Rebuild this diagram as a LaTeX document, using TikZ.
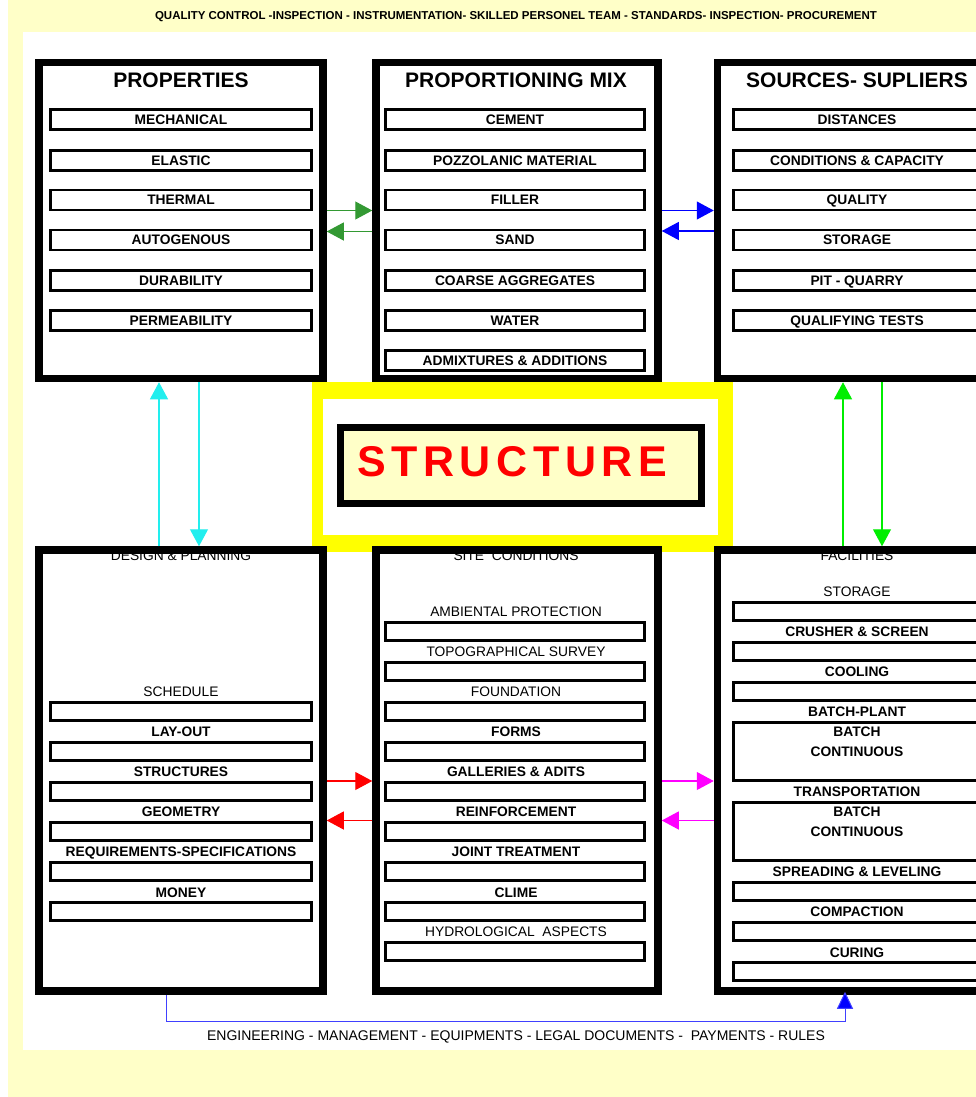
\documentclass[tikz,border=0pt]{standalone}
\usepackage{fontspec}
\setmainfont{Liberation Sans}
\usetikzlibrary{arrows.meta}
\definecolor{bgy}{HTML}{FFFFC8}
\definecolor{gA}{HTML}{339933}
\definecolor{gB}{HTML}{00EE00}
\definecolor{bA}{HTML}{0000FF}
\definecolor{cA}{HTML}{22EEEE}
\definecolor{rA}{HTML}{FF0000}
\definecolor{mA}{HTML}{FF00FF}
\definecolor{yA}{HTML}{FFFF00}
\tikzset{
  bigbox/.style={draw=black, line width=7.5pt, inner sep=0pt, minimum width=284pt},
  itembox/.style={draw=black, line width=2.8pt, inner sep=0pt, minimum height=20pt,
    text height=9.9pt, text depth=0pt, font=\fontsize{13.8}{16}\selectfont\bfseries},
  emptybox/.style={draw=black, line width=2.8pt, inner sep=0pt, minimum height=18pt},
  labb/.style={inner sep=0pt, text height=9.9pt, text depth=0pt, font=\fontsize{13.8}{16}\selectfont\bfseries},
  labr/.style={inner sep=0pt, text height=9.9pt, text depth=0pt, font=\fontsize{13.8}{16}\selectfont},
  title/.style={inner sep=0pt, font=\fontsize{21}{24}\selectfont\bfseries},
  arr/.style={line width=1.1pt, -{Triangle[length=17pt,width=18pt]}},
}
\begin{document}
\begin{tikzpicture}[x=1pt,y=-1pt]
\useasboundingbox (0,0) rectangle (976,1097);
\clip (0,0) rectangle (976,1097);
\fill[white] (0,0) rectangle (976,1097);
\fill[bgy] (8,0) rectangle (976,1097);
\fill[white] (23,32) rectangle (976,1050);
% top banner
\node[inner sep=0pt, font=\fontsize{11.5}{13}\selectfont\bfseries] (banner) at (516,17)
  {QUALITY CONTROL -INSPECTION - INSTRUMENTATION- SKILLED PERSONEL TEAM - STANDARDS- INSPECTION- PROCUREMENT};
% structure
\fill[yA] (312,382) rectangle (733,552);
\fill[white] (323,399) rectangle (718,535);
\node[draw=black, line width=7pt, fill=bgy, minimum width=361pt, minimum height=76.5pt, inner sep=0pt] (struct) at (521,465.25) {};
\node[inner sep=0pt, anchor=west, text=rA, font=\fontsize{43}{50}\selectfont\bfseries\addfontfeature{LetterSpace=13}] (structtxt) at (357,461.5) {STRUCTURE};
% bottom titles (partly under frames)
\node[labr] (dtitle) at (181,556) {DESIGN \& PLANNING};
\node[labr] (stitle) at (516,556) {SITE\ \ CONDITIONS};
\node[labr] (ftitle) at (857,556) {FACILITIES};
% big boxes
\node[bigbox, minimum height=316pt] (props) at (181,220.5) {};
\node[bigbox, minimum width=282pt, minimum height=316pt] (mix) at (517,220.5) {};
\node[bigbox, minimum height=316pt] (src) at (859.5,220.5) {};
\node[bigbox, minimum height=441pt] (design) at (181,770.5) {};
\node[bigbox, minimum width=282pt, minimum height=441pt] (site) at (517,770.5) {};
\node[bigbox, minimum height=441pt] (fac) at (859.5,770.5) {};
% titles top
\node[title] (ptitle) at (181,80) {PROPERTIES};
\node[title] (mtitle) at (516,80) {PROPORTIONING MIX};
\node[title] (srctitle) at (857,80) {SOURCES- SUPLIERS};
% top items
\foreach \y/\t [count=\i] in {119.5/MECHANICAL,160.5/ELASTIC,200/THERMAL,240/AUTOGENOUS,280.5/DURABILITY,320.5/PERMEABILITY}
  \node[itembox, minimum width=261pt] (pa\i) at (181,\y) {\t};
\foreach \y/\t [count=\i] in {119.5/CEMENT,160.5/POZZOLANIC MATERIAL,200/FILLER,240/SAND,280.5/COARSE AGGREGATES,320.5/WATER,360.5/ADMIXTURES \& ADDITIONS}
  \node[itembox, minimum width=259pt] (ma\i) at (515,\y) {\t};
\foreach \y/\t [count=\i] in {119.5/DISTANCES,160.5/CONDITIONS \& CAPACITY,200/QUALITY,240/STORAGE,280.5/PIT - QUARRY,320.5/QUALIFYING TESTS}
  \node[itembox, minimum width=247pt] (sa\i) at (857,\y) {};
\foreach \y/\t [count=\i] in {119.5/DISTANCES,160.5/CONDITIONS \& CAPACITY,200/QUALITY,240/STORAGE,280.5/PIT - QUARRY,320.5/QUALIFYING TESTS}
  \node[labb] (st\i) at (857,\y) {\t};
% bottom-left
\node[labr] (dl1) at (181,692) {SCHEDULE};
\foreach \y/\t [count=\i] in {732/LAY-OUT,772/STRUCTURES,812/GEOMETRY,852/REQUIREMENTS-SPECIFICATIONS,892.5/MONEY}
  \node[labb] (dl\i b) at (181,\y) {\t};
\foreach \y [count=\i] in {692,732,772,812,852,892}
  \node[emptybox, minimum width=261pt] (db\i) at (181,\y+19.5) {};
% bottom-middle
\node[labr] (sl1) at (516,612) {AMBIENTAL PROTECTION};
\node[labr] (sl2) at (516,652) {TOPOGRAPHICAL SURVEY};
\node[labr] (sl3) at (516,692) {FOUNDATION};
\foreach \y/\t [count=\i] in {732/FORMS,772/GALLERIES \& ADITS,812/REINFORCEMENT,852/JOINT TREATMENT,892.5/CLIME}
  \node[labb] (sl\i b) at (516,\y) {\t};
\node[labr] (sl9) at (516,932) {HYDROLOGICAL\ \ ASPECTS};
\foreach \y [count=\i] in {612,652,692,732,772,812,852,892,932}
  \node[emptybox, minimum width=259pt] (sb\i) at (515,\y+19.5) {};
% bottom-right
\node[labr] (fl1) at (857,592) {STORAGE};
\foreach \y/\t [count=\i] in {632/CRUSHER \& SCREEN,672/COOLING,712/BATCH-PLANT,732/BATCH,752/CONTINUOUS,792/TRANSPORTATION,812/BATCH,832/CONTINUOUS,872/SPREADING \& LEVELING,912/COMPACTION,952.5/CURING}
  \node[labb] (fl\i b) at (857,\y) {\t};
\foreach \y [count=\i] in {592,632,672,872,912,952}
  \node[emptybox, minimum width=247pt] (fb\i) at (857,\y+19.5) {};
\node[emptybox, minimum width=247pt, minimum height=58pt] (fbatch) at (857,751.5) {};
\node[emptybox, minimum width=247pt, minimum height=58pt] (ftrans) at (857,831.5) {};
% connectors
\draw[arr, gA] (props.east |- 0,210.5) -- (mix.west |- 0,210.5);
\draw[arr, gA] (mix.west |- 0,231.5) -- (props.east |- 0,231.5);
\draw[arr, bA] (mix.east |- 0,210.5) -- (src.west |- 0,210.5);
\draw[arr, bA] (src.west |- 0,231) -- (mix.east |- 0,231);
\draw[arr, cA] (design.north -| 159,0) -- (props.south -| 159,0);
\draw[arr, cA] (props.south -| 199,0) -- (design.north -| 199,0);
\draw[arr, gB] (fac.north -| 843,0) -- (src.south -| 843,0);
\draw[arr, gB] (src.south -| 882,0) -- (fac.north -| 882,0);
\draw[arr, rA] (design.east |- 0,781) -- (site.west |- 0,781);
\draw[arr, rA] (site.west |- 0,820.5) -- (design.east |- 0,820.5);
\draw[arr, mA] (site.east |- 0,781) -- (fac.west |- 0,781);
\draw[arr, mA] (fac.west |- 0,820.5) -- (site.east |- 0,820.5);
\coordinate (b1) at (166,1021);
\coordinate (b2) at (845,1021);
\draw[line width=1pt, bA!75!white, -{Triangle[length=17pt,width=16pt,fill=bA]}] (design.south -| b1) -- (b1) -- (b2) -- ([yshift=3pt]fac.south -| b2);
\node[inner sep=0pt, font=\fontsize{14}{16}\selectfont] (bottomtxt) at (516,1037)
  {ENGINEERING - MANAGEMENT - EQUIPMENTS - LEGAL DOCUMENTS -\ \ PAYMENTS - RULES};
\end{tikzpicture}
\end{document}
